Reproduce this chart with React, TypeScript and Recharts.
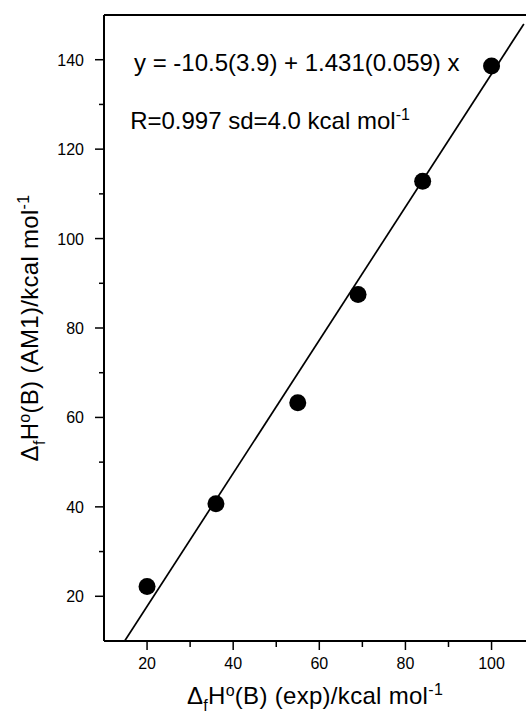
import React from "react"
import { ScatterChart, Scatter, XAxis, YAxis, ReferenceLine, ReferenceDot, Label } from "recharts"

// measured points (exp vs AM1)
const expValues = [20, 36, 55, 69, 84, 100]
const am1Values = [22.2, 40.7, 63.3, 87.5, 112.8, 138.6]

// fitted line, ends
const fitX = [14.8, 107.5]
const fitY = [10, 148]

const xTicks = [20, 30, 40, 50, 60, 70, 80, 90, 100]
const yTicks = [20, 30, 40, 50, 60, 70, 80, 90, 100, 110, 120, 130, 140]

const points = expValues.map((x, i) => ({ x, y: am1Values[i] }))
const fitLine = fitX.map((x, i) => ({ x, y: fitY[i] }))

const font = "'Liberation Sans', Arial, Helvetica, sans-serif"

const YTick = (props: any) => {
    const { x, y, payload } = props
    const major = payload.value % 20 === 0
    return (
        <g>
            <line x1={x} x2={x - (major ? 9 : 5)} y1={y} y2={y} stroke="#000" strokeWidth={1.5} />
            {major && (
                <text x={x - 20} y={y} dy={6} textAnchor="end" fontSize={16} fontFamily={font} fill="#000">
                    {payload.value}
                </text>
            )}
        </g>
    )
}

const XTick = (props: any) => {
    const { x, y, payload } = props
    const major = payload.value % 20 === 0
    return (
        <g>
            <line x1={x} x2={x} y1={y} y2={y + (major ? 9 : 6)} stroke="#000" strokeWidth={1.5} />
            {major && (
                <text x={x} y={y + 28} textAnchor="middle" fontSize={16} fontFamily={font} fill="#000">
                    {payload.value}
                </text>
            )}
        </g>
    )
}

const XTitle = (props: any) => {
    const { x, y, width } = props.viewBox
    return (
        <text x={x + width / 2} y={y + 63} textAnchor="middle" fontSize={24} letterSpacing={0.3} fontFamily={font} fill="#000">
            <tspan>Δ</tspan>
            <tspan dy={7} fontSize={16}>f</tspan>
            <tspan dy={-7}>H</tspan>
            <tspan dy={-8} fontSize={16}>o</tspan>
            <tspan dy={8}>(B) (exp)/kcal mol</tspan>
            <tspan dy={-9} fontSize={16}>-1</tspan>
        </text>
    )
}

const YTitle = (props: any) => {
    const { x, y, height } = props.viewBox
    const cx = x - 6
    const cy = y + height / 2
    return (
        <text x={cx} y={cy} textAnchor="middle" fontSize={24} letterSpacing={0.3} fontFamily={font} fill="#000" transform={`rotate(-90, ${cx}, ${cy})`}>
            <tspan>Δ</tspan>
            <tspan dy={7} fontSize={16}>f</tspan>
            <tspan dy={-7}>H</tspan>
            <tspan dy={-8} fontSize={16}>o</tspan>
            <tspan dy={8}>(B) (AM1)/kcal mol</tspan>
            <tspan dy={-9} fontSize={16}>-1</tspan>
        </text>
    )
}

const Equation = (props: any) => {
    const { x, y } = props.viewBox
    return (
        <text x={x} y={y} fontSize={24} fontFamily={font} fill="#000">
            y = -10.5(3.9) + 1.431(0.059) x
        </text>
    )
}

const Stats = (props: any) => {
    const { x, y } = props.viewBox
    return (
        <text x={x} y={y} fontSize={24} fontFamily={font} fill="#000">
            <tspan>R=0.997 sd=4.0 kcal mol</tspan>
            <tspan dy={-9} fontSize={16}>-1</tspan>
        </text>
    )
}

const Dot = (props: any) => <circle cx={props.cx} cy={props.cy} r={8.5} fill="#000" />

export default function App() {
    return (
        <div style={{ position: "absolute", left: 0, top: 0, width: 526, height: 717, background: "#fff" }}>
            <ScatterChart width={526} height={717} margin={{ top: 15, right: 0, bottom: 16, left: 44 }}>
                <XAxis
                    type="number"
                    dataKey="x"
                    domain={[10, 108]}
                    ticks={xTicks}
                    allowDataOverflow
                    height={60}
                    axisLine={{ stroke: "#000", strokeWidth: 2 }}
                    tickLine={false}
                    tickSize={0}
                    tickMargin={0}
                    tick={<XTick />}
                    label={<Label content={<XTitle />} />}
                />
                <YAxis
                    type="number"
                    dataKey="y"
                    domain={[10, 150]}
                    ticks={yTicks}
                    allowDataOverflow
                    width={60}
                    axisLine={{ stroke: "#000", strokeWidth: 2 }}
                    tickLine={false}
                    tickSize={0}
                    tickMargin={0}
                    tick={<YTick />}
                    label={<Label content={<YTitle />} />}
                />
                <ReferenceLine y={150} stroke="#000" strokeWidth={2} />
                <ReferenceDot x={17.2} y={137.2} r={1} fill="none" stroke="none" label={<Label content={<Equation />} />} />
                <ReferenceDot x={16.3} y={124.3} r={1} fill="none" stroke="none" label={<Label content={<Stats />} />} />
                <Scatter
                    data={fitLine}
                    line={{ stroke: "#000", strokeWidth: 1.7 }}
                    shape={() => null}
                    isAnimationActive={false}
                />
                <Scatter data={points} fill="#000" shape={<Dot />} isAnimationActive={false} />
            </ScatterChart>
        </div>
    )
}
